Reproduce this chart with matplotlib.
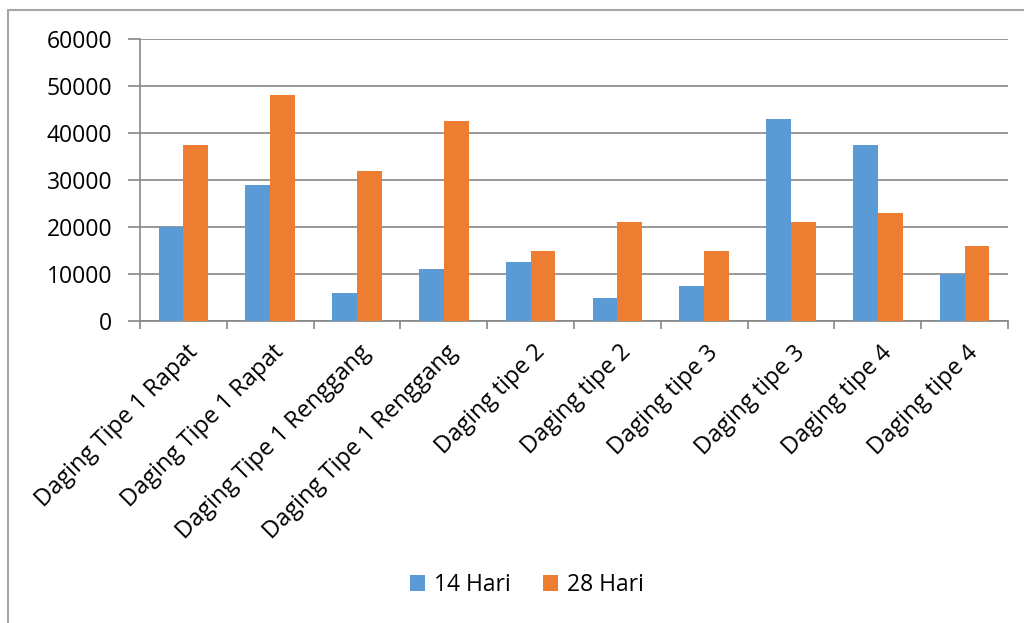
import numpy as np
import matplotlib
matplotlib.use('Agg')
import matplotlib.pyplot as plt
import matplotlib.transforms as mtransforms
from matplotlib.patches import Rectangle

categories = ['Daging Tipe 1 Rapat', 'Daging Tipe 1 Rapat', 'Daging Tipe 1 Renggang',
              'Daging Tipe 1 Renggang', 'Daging tipe 2', 'Daging tipe 2',
              'Daging tipe 3', 'Daging tipe 3', 'Daging tipe 4', 'Daging tipe 4']
hari_14 = [20000, 29000, 6000, 11000, 12500, 5000, 7500, 43000, 37500, 10000]
hari_28 = [37500, 48000, 32000, 42500, 15000, 21000, 15000, 21000, 23000, 16000]
y_ticks = [0, 10000, 20000, 30000, 40000, 50000, 60000]

plt.rcParams['font.family'] = ['Open Sans', 'DejaVu Sans']

fig = plt.figure(figsize=(10.24, 6.23), dpi=100)
ax = fig.add_axes([140/1024, 1 - 321/623, 868/1024, 282/623])

# outer chart frame (only left and top visible in the crop)
fig.patches.append(Rectangle((8/1024, -0.1), 1.2, 1 - 10/623 + 0.1, transform=fig.transFigure,
                             fill=False, edgecolor='#a6a6a6', linewidth=1.5))

x = np.arange(len(categories))
w = 1 / 3.5
grey = '#868686'
ax.bar(x - w/2, hari_14, width=w, color='#5b9bd5', label='14 Hari', zorder=3)
ax.bar(x + w/2, hari_28, width=w, color='#ed7d31', label='28 Hari', zorder=3)

ax.set_xlim(-0.5, len(categories) - 0.5)
ax.set_ylim(0, 60000)
ax.set_yticks(y_ticks)
ax.set_yticklabels([str(v) for v in y_ticks], fontsize=16.5)
ax.yaxis.grid(True, color=grey, linewidth=1.2, zorder=0)
ax.tick_params(axis='y', length=9, width=1.2, color=grey, pad=11)

ax.set_xticks(x)
ax.set_xticklabels(categories, rotation=45, ha='right', rotation_mode='anchor', fontsize=17)
ax.tick_params(axis='x', which='major', length=0, pad=14)
shift = mtransforms.ScaledTranslation(2/100, 0, fig.dpi_scale_trans)
for lbl in ax.get_xticklabels():
    lbl.set_transform(lbl.get_transform() + shift)
ax.set_xticks(np.arange(-0.5, len(categories) + 0.5, 1), minor=True)
ax.tick_params(axis='x', which='minor', length=6, width=1.2, color=grey)

for s in ['top', 'right']:
    ax.spines[s].set_visible(False)
for s in ['left', 'bottom']:
    ax.spines[s].set_color(grey)
    ax.spines[s].set_linewidth(1.2)

fig.legend(loc='center', bbox_to_anchor=(527/1024, 1 - 585/623), ncol=2, frameon=False,
           fontsize=16.5, handlelength=0.65, handleheight=0.65, handletextpad=0.4, columnspacing=1.4)

fig.savefig('out.png', dpi=100)
